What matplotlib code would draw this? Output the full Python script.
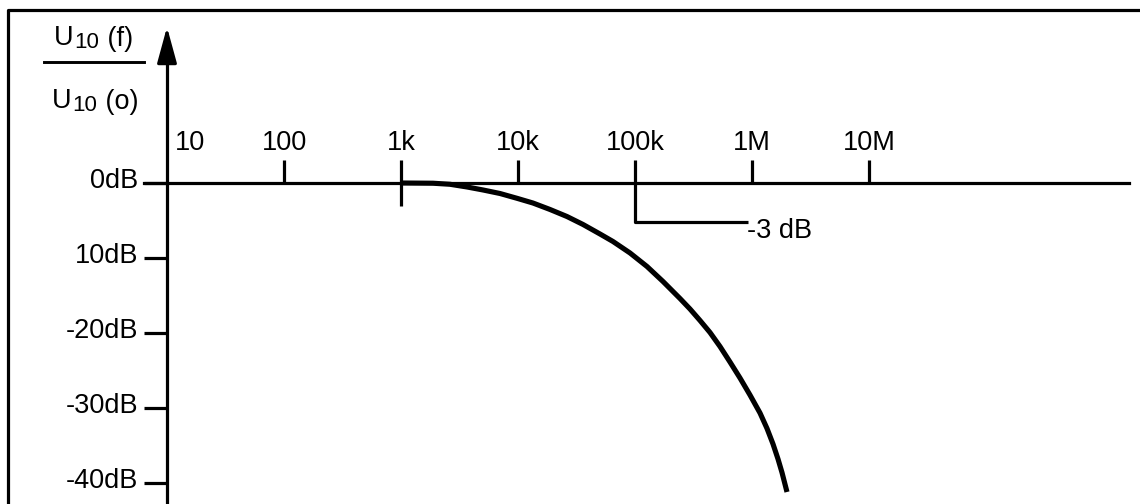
import numpy as np
import matplotlib
matplotlib.use('Agg')
import matplotlib.pyplot as plt
from matplotlib.ticker import FixedLocator, FixedFormatter, NullLocator
from matplotlib.transforms import ScaledTranslation

plt.rcParams['font.family'] = ['Liberation Sans', 'DejaVu Sans']

# frequency response (Hz, dB)
freq = [1000, 1877, 2623, 3665, 5022, 7017, 9805, 13430, 18770, 26230,
        35940, 50220, 64860, 90640, 126600, 173500, 242400, 295200, 359400,
        437500, 532700, 648600, 789600, 961400, 1.171e6, 1.343e6, 1.512e6,
        1.668e6, 1.805e6, 1.991e6]
gain_db = [0.0, -0.03, -0.17, -0.53, -0.93, -1.4, -2.04, -2.67, -3.53, -4.47,
           -5.53, -6.8, -7.8, -9.33, -11.13, -13.13, -15.4, -16.8, -18.33,
           -19.93, -21.8, -23.87, -26.0, -28.27, -30.67, -32.72, -34.8,
           -36.8, -38.61, -41.2]

x_ticks = [100, 1e3, 1e4, 1e5, 1e6, 1e7]
x_labels = ['100', '1k', '10k', '100k', '1M', '10M']
y_ticks = [0, -10, -20, -30, -40]
y_labels = ['0dB', '10dB', '-20dB', '-30dB', '-40dB']
cutoff_f = 1e5
cutoff_label = '-3 dB'

W, H = 1140, 504
X0, Y0 = 167, 183          # pixel of (10 Hz, 0 dB)
DEC = 117.0                # px per decade
DBP = 7.5                  # px per dB
FS = 19.5

def fx(px):
    return 10 ** (1 + (px - X0) / DEC)

def dy(px):
    return -(px - Y0) / DBP

fig = plt.figure(figsize=(W / 100, H / 100), dpi=100)
ax = fig.add_axes([0, 0, 1, 1])
ax.set_xscale('log')
ax.set_xlim(fx(0), fx(W))
ax.set_ylim(dy(H), dy(0))
ax.patch.set_visible(False)

lw = 2.3
tick_len = 23 * 0.72

for s in ['bottom', 'right']:
    ax.spines[s].set_visible(False)
ax.spines['top'].set_position(('data', 0))
ax.spines['top'].set_bounds(fx(144), fx(1129))
ax.spines['left'].set_position(('data', 10))
ax.spines['left'].set_bounds(dy(H), dy(50))
for s in ['top', 'left']:
    ax.spines[s].set_linewidth(lw)

ax.xaxis.set_ticks_position('top')
ax.xaxis.set_major_locator(FixedLocator(x_ticks))
ax.xaxis.set_major_formatter(FixedFormatter(x_labels))
ax.xaxis.set_minor_locator(NullLocator())
ax.tick_params(axis='x', direction='out', length=tick_len, width=lw,
               labelsize=FS, pad=3)

ax.yaxis.set_ticks_position('left')
ax.yaxis.set_major_locator(FixedLocator(y_ticks))
ax.yaxis.set_major_formatter(FixedFormatter(y_labels))
ax.tick_params(axis='y', direction='out', length=tick_len, width=lw,
               labelsize=FS, pad=4)
# labels sit a little above their ticks in the original
up = ScaledTranslation(0, 5 / 100, fig.dpi_scale_trans)
for t in ax.yaxis.get_major_ticks():
    t.label1.set_transform(t.label1.get_transform() + up)

# arrow head on the vertical axis
ax.annotate('', xy=(10, dy(27)), xytext=(10, dy(58)),
            arrowprops=dict(arrowstyle='-|>,head_length=1.1,head_width=0.3',
                            mutation_scale=20, color='black', lw=lw,
                            shrinkA=0, shrinkB=0))

ax.text(fx(190), dy(143), '10', fontsize=FS, ha='center', va='center')

# 1k tick crosses the axis
ax.plot([1000, 1000], [0, dy(206)], color='black', lw=lw, solid_capstyle='butt')

# -3 dB marker
ax.plot([cutoff_f, cutoff_f, fx(748)], [0, dy(222), dy(222)], color='black',
        lw=lw, solid_capstyle='butt')
ax.text(fx(747), dy(231), cutoff_label, fontsize=FS, ha='left', va='center')

ax.plot(freq, gain_db, color='black', lw=3.7, solid_capstyle='butt',
        solid_joinstyle='round')

# frame
ax.plot([8 / W, 8 / W, 1.0], [0, 1 - 10 / H, 1 - 10 / H], color='black',
        lw=lw, transform=ax.transAxes, clip_on=False)


def u_label(x_px, base_px, arg):
    # U with a large subscript 10, then the argument
    t = ax.text(x_px / W, 1 - base_px / H, 'U', fontsize=FS, ha='left',
                va='baseline', transform=ax.transAxes)
    s = ax.annotate('10', xy=(1, 0), xycoords=t, xytext=(1, 3),
                    textcoords='offset pixels', fontsize=16, ha='left',
                    va='baseline')
    ax.annotate(' (' + arg + ')', xy=(1, 0), xycoords=s, xytext=(0, 7),
                textcoords='offset pixels', fontsize=FS, ha='left',
                va='baseline')


u_label(54, 45, 'f')
ax.plot([44 / W, 144 / W], [1 - 62 / H, 1 - 62 / H], color='black', lw=2.1,
        transform=ax.transAxes)
u_label(52, 108, 'o')

fig.savefig('out.png', dpi=100)
